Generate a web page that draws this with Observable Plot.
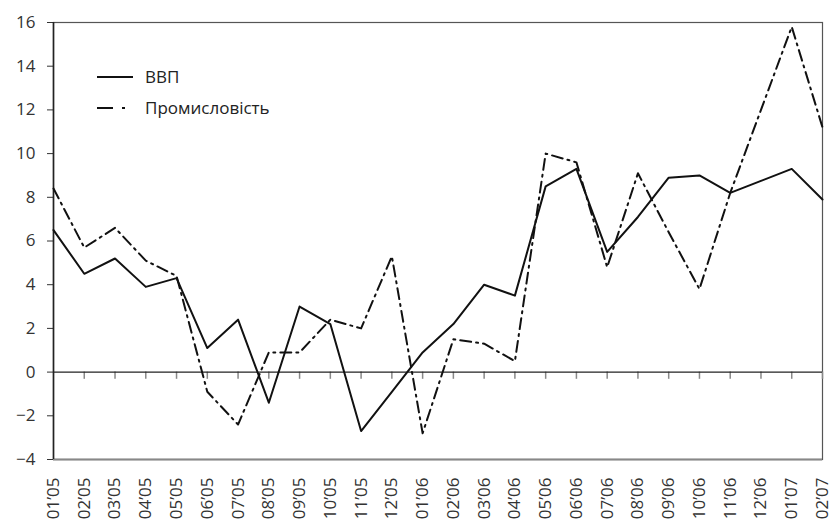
<!DOCTYPE html>
<html><head><meta charset="utf-8">
<script src="https://cdn.jsdelivr.net/npm/d3@7"></script>
<script src="https://cdn.jsdelivr.net/npm/@observablehq/plot@0.6"></script>
<style>
html,body{margin:0;padding:0;background:#fff;overflow:hidden}
</style></head>
<body><div id="chart"></div>
<script>
const months = ["01’05","02’05","03’05","04’05","05’05","06’05","07’05","08’05","09’05","10’05","11’05","12’05",
  "01’06","02’06","03’06","04’06","05’06","06’06","07’06","08’06","09’06","10’06","11’06","12’06","01’07","02’07"];
const gdp = [6.5,4.5,5.2,3.9,4.3,1.1,2.4,-1.4,3.0,2.2,-2.7,-0.9,0.9,2.2,4.0,3.5,8.5,9.3,5.5,7.1,8.9,9.0,8.2,8.75,9.3,7.9];
const industry = [8.4,5.7,6.6,5.1,4.4,-0.9,-2.4,0.9,0.9,2.4,2.0,5.3,-2.8,1.5,1.3,0.5,10.0,9.6,4.8,9.1,6.4,3.8,8.2,12.0,15.8,11.2];
const yTicks = [-4,-2,0,2,4,6,8,10,12,14,16];
const seriesNames = ["ВВП","Промисловість"];

const gdpData = months.map((m,i)=>({m, v: gdp[i]}));
const indData = months.map((m,i)=>({m, v: industry[i]}));
const font = "'Open Sans', sans-serif";

const plot = Plot.plot({
  width: 829, height: 519,
  marginLeft: 53, marginRight: 7, marginTop: 22, marginBottom: 60,
  style: {fontFamily: font, fontSize: "17px", color: "#333", background: "#fff"},
  x: {type: "point", domain: months, padding: 0, round: false, label: null},
  y: {domain: [-4, 16], ticks: yTicks, label: null},
  marks: [
    Plot.frame({stroke: "#555", strokeWidth: 1.2}),
    Plot.ruleY([-4], {stroke: "#888", strokeWidth: 2}),
    Plot.axisY({ticks: yTicks, tickSize: 6, tickPadding: 12, stroke: "#333", fontSize: 17}),
    Plot.axisX({tickSize: 0, tickRotate: -90, tickPadding: 18, fontSize: 17}),
    Plot.ruleX(months.slice(1), {y1: 0, y2: -0.33, stroke: "#888", strokeWidth: 1.5}),
    Plot.ruleY([0], {stroke: "#222", strokeWidth: 1.3}),
    Plot.ruleX([months[0]], {stroke: "#222", strokeWidth: 1.6}),
    Plot.line(indData, {x: "m", y: "v", stroke: "#111", strokeWidth: 2, strokeDasharray: "11,5,2,5"}),
    Plot.line(gdpData, {x: "m", y: "v", stroke: "#111", strokeWidth: 2})
  ]
});
document.getElementById("chart").appendChild(plot);

// legend inside the plot area
const svg = d3.select(plot);
const lg = svg.append("g").attr("font-family", font).attr("font-size", 17).attr("fill", "#222").attr("text-anchor", "start");
const rows = [{name: seriesNames[0], dash: null, y: 77}, {name: seriesNames[1], dash: "16,9,3,9", y: 108}];
rows.forEach(r => {
  lg.append("line").attr("x1", 97).attr("x2", 133).attr("y1", r.y).attr("y2", r.y)
    .attr("stroke", "#111").attr("stroke-width", 2).attr("stroke-dasharray", r.dash);
  lg.append("text").attr("x", 145).attr("y", r.y).attr("dy", "0.35em").text(r.name);
});
</script></body></html>
